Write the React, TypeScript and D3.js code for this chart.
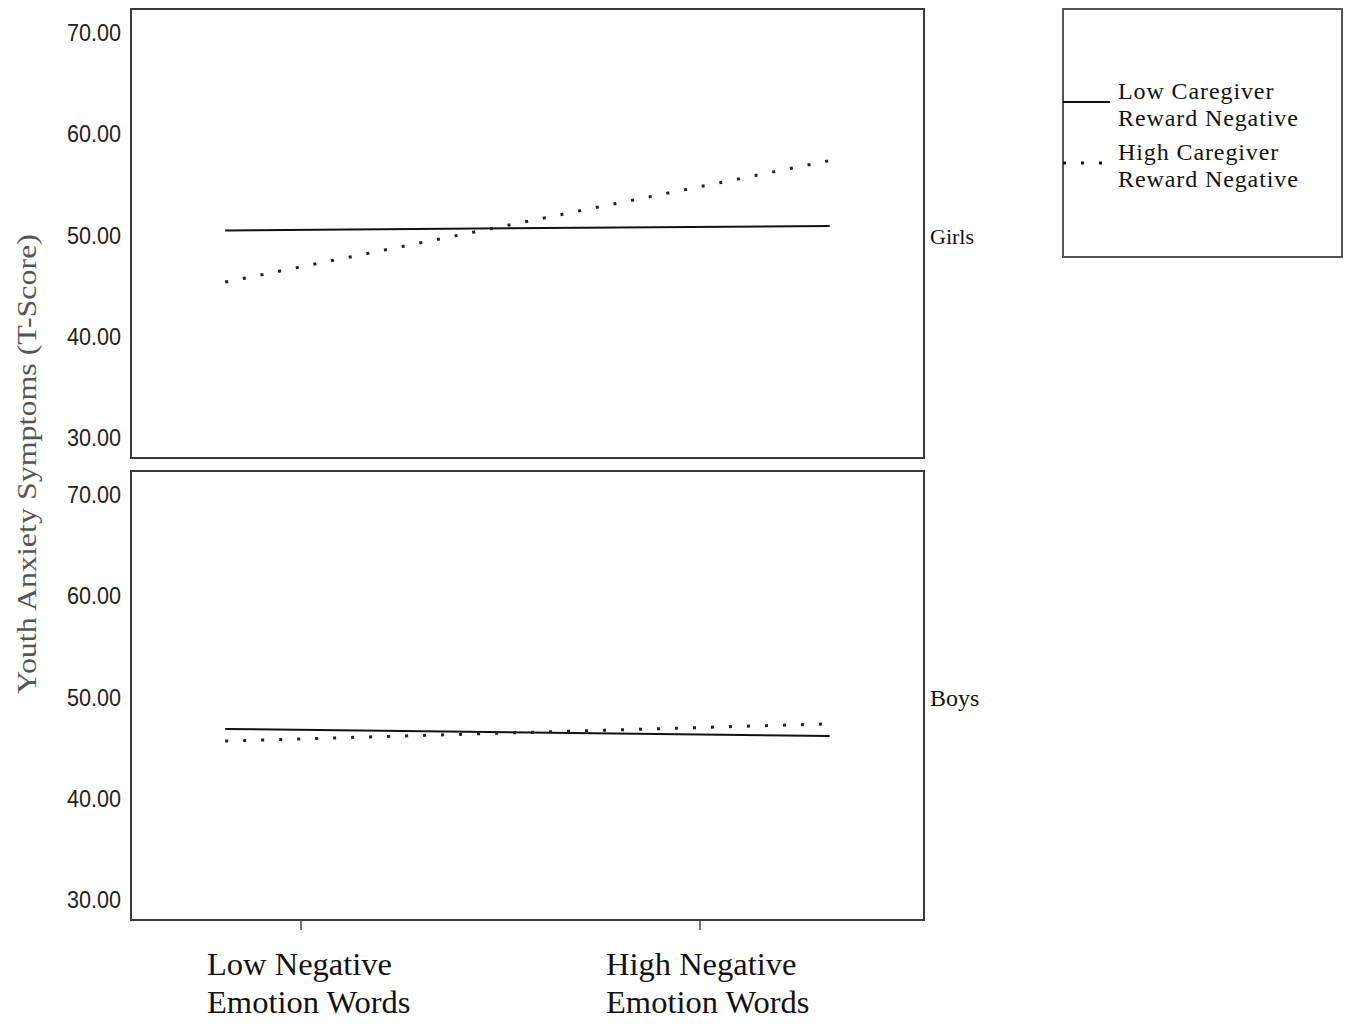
import * as d3 from 'd3';
import { useEffect, useRef } from 'react';

const categories = [['Low Negative', 'Emotion Words'], ['High Negative', 'Emotion Words']];
const panelNames = ['Girls', 'Boys'];
const yTicks = [30, 40, 50, 60, 70];
// line end positions in category units (lines run past the tick marks in the original)
const lineX = [-0.19, 1.325];
const lowCaregiverGirls = [50.5, 50.95];
const highCaregiverGirls = [45.4, 57.4];
const lowCaregiverBoys = [46.9, 46.2];
const highCaregiverBoys = [45.7, 47.4];
const legendLabels = [['Low Caregiver', 'Reward Negative'], ['High Caregiver', 'Reward Negative']];

const serif = 'Liberation Serif, Times New Roman, serif';

const App = () => {
    const ref = useRef<SVGSVGElement | null>(null);

    useEffect(() => {
        if (!ref.current) return;
        const svg = d3.select(ref.current);
        svg.selectAll('*').remove();

        const left = 131, right = 924;
        const panelH = 449;
        const panelTops = [9, 471];
        const x = d3.scaleLinear().domain([0, 1]).range([301, 700]);

        const series = [
            { low: lowCaregiverGirls, high: highCaregiverGirls },
            { low: lowCaregiverBoys, high: highCaregiverBoys }
        ];

        panelTops.forEach((top, i) => {
            const y = d3.scaleLinear().domain([30, 70]).range([top + 429, top + 24]);
            const g = svg.append('g');

            g.append('rect')
                .attr('x', left).attr('y', top)
                .attr('width', right - left).attr('height', panelH)
                .attr('fill', 'none').attr('stroke', '#3a3a3a').attr('stroke-width', 2);

            g.selectAll('.ytick')
                .data(yTicks)
                .enter().append('text')
                .attr('x', 121)
                .attr('y', d => y(d) + 8)
                .attr('text-anchor', 'end')
                .attr('font-family', 'Liberation Sans, Arial, sans-serif')
                .attr('font-size', 23)
                .attr('textLength', 54)
                .attr('lengthAdjust', 'spacingAndGlyphs')
                .attr('fill', '#222')
                .text(d => d.toFixed(2));

            const line = d3.line<number>()
                .x((_d, j) => x(lineX[j]))
                .y(d => y(d));

            g.append('path')
                .attr('d', line(series[i].low))
                .attr('fill', 'none').attr('stroke', '#111').attr('stroke-width', 2);

            g.append('path')
                .attr('d', line(series[i].high))
                .attr('fill', 'none').attr('stroke', '#222').attr('stroke-width', 3)
                .attr('stroke-dasharray', '3 15');

            g.append('text')
                .attr('x', 930)
                .attr('y', top + 235)
                .attr('font-family', serif)
                .attr('font-size', i === 0 ? 22 : 24)
                .attr('fill', '#111')
                .text(panelNames[i]);
        });

        // x axis ticks and labels under the bottom panel
        const axisY = panelTops[1] + panelH;
        svg.selectAll('.xtick')
            .data(categories)
            .enter().append('line')
            .attr('x1', (_d, i) => x(i)).attr('x2', (_d, i) => x(i))
            .attr('y1', axisY).attr('y2', axisY + 10)
            .attr('stroke', '#444').attr('stroke-width', 1.5);

        categories.forEach((lines, i) => {
            const t = svg.append('text')
                .attr('x', x(i) - 94)
                .attr('y', 975)
                .attr('font-family', serif)
                .attr('font-size', 32.5)
                .attr('fill', '#111');
            lines.forEach((s, k) => {
                t.append('tspan').attr('x', x(i) - 94).attr('dy', k === 0 ? 0 : 38).text(s);
            });
        });

        // y axis title
        svg.append('text')
            .attr('transform', 'translate(36,464) rotate(-90)')
            .attr('text-anchor', 'middle')
            .attr('font-family', serif)
            .attr('font-size', 28)
            .attr('textLength', 460)
            .attr('lengthAdjust', 'spacingAndGlyphs')
            .attr('fill', '#555')
            .text('Youth Anxiety Symptoms (T-Score)');

        // legend
        const lg = svg.append('g');
        lg.append('rect')
            .attr('x', 1063).attr('y', 9).attr('width', 279).attr('height', 248)
            .attr('fill', 'none').attr('stroke', '#555').attr('stroke-width', 2);

        legendLabels.forEach((lines, i) => {
            const ly = 102 + i * 61;
            lg.append('line')
                .attr('x1', 1063).attr('x2', 1110)
                .attr('y1', ly).attr('y2', ly)
                .attr('stroke', '#111')
                .attr('stroke-width', i === 0 ? 2 : 3)
                .attr('stroke-dasharray', i === 0 ? null : '3 15');
            const t = lg.append('text')
                .attr('x', 1118)
                .attr('y', 99 + i * 61)
                .attr('font-family', serif)
                .attr('font-size', 24)
                .attr('letter-spacing', 0.9)
                .attr('fill', '#111');
            lines.forEach((s, k) => {
                t.append('tspan').attr('x', 1118).attr('dy', k === 0 ? 0 : 27).text(s);
            });
        });
    }, []);

    return (
        <svg ref={ref} width={1348} height={1026}
            style={{ position: 'absolute', left: 0, top: 0, background: '#fff' }} />
    );
};

export default App;
